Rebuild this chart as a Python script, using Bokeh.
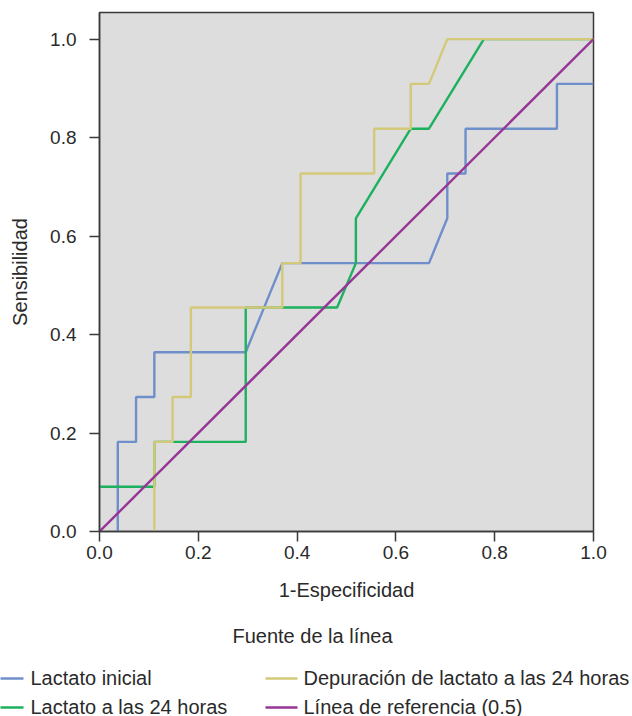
from bokeh.plotting import figure
from bokeh.layouts import column
from bokeh.models import Range1d, FixedTicker
from bokeh.core.properties import value
from bokeh.embed import file_html
from bokeh.resources import INLINE

# ---- data ----
inicial_x = [0.037, 0.037, 0.074, 0.074, 0.111, 0.111, 0.296, 0.370, 0.667, 0.704, 0.704, 0.741, 0.741, 0.926, 0.926, 1.0]
inicial_y = [0.0, 0.182, 0.182, 0.273, 0.273, 0.364, 0.364, 0.545, 0.545, 0.636, 0.727, 0.727, 0.818, 0.818, 0.909, 0.909]

h24_x = [0.0, 0.111, 0.111, 0.296, 0.296, 0.481, 0.519, 0.519, 0.630, 0.667, 0.778, 1.0]
h24_y = [0.091, 0.091, 0.182, 0.182, 0.455, 0.455, 0.545, 0.636, 0.818, 0.818, 1.0, 1.0]

dep_x = [0.111, 0.111, 0.148, 0.148, 0.185, 0.185, 0.370, 0.370, 0.407, 0.407, 0.556, 0.556, 0.630, 0.630, 0.667, 0.704, 1.0]
dep_y = [0.0, 0.182, 0.182, 0.273, 0.273, 0.455, 0.455, 0.545, 0.545, 0.727, 0.727, 0.818, 0.818, 0.909, 0.909, 1.0, 1.0]

ref_x = [0.0, 1.0]
ref_y = [0.0, 1.0]

ticks = [0.0, 0.2, 0.4, 0.6, 0.8, 1.0]
tick_labels = ["0.0", "0.2", "0.4", "0.6", "0.8", "1.0"]
names = ["Lactato inicial", "Lactato a las 24 horas",
         "Depuración de lactato a las 24 horas", "Línea de referencia (0.5)"]
colors = ["#6f8fca", "#1db05f", "#d3c979", "#963595"]
legend_title = "Fuente de la línea"

FONT = "Liberation Sans"
TXT = "#2a2a2a"

W = 632
H_MAIN = 612
H_LEG = 104

p = figure(width=W, height=H_MAIN, output_backend="svg", toolbar_location=None,
           x_range=Range1d(0, 1), y_range=Range1d(0, 1.054),
           min_border_left=99, min_border_right=39, min_border_top=12,
           min_border_bottom=H_MAIN - 531)
p.frame_align = False
p.background_fill_color = "#dcdddc"
p.border_fill_color = "white"
p.outline_line_color = "#3a3a3a"
p.outline_line_width = 1.5
p.grid.visible = False

for ax in (p.xaxis[0], p.yaxis[0]):
    ax.ticker = FixedTicker(ticks=ticks)
    ax.major_label_overrides = {t: l for t, l in zip(ticks, tick_labels)}
    ax.minor_tick_line_color = None
    ax.major_tick_out = 10
    ax.major_tick_in = 0
    ax.major_tick_line_color = "#3a3a3a"
    ax.major_tick_line_width = 1.5
    ax.axis_line_color = "#3a3a3a"
    ax.axis_line_width = 1.5
    ax.major_label_text_font = FONT
    ax.major_label_text_font_size = "19px"
    ax.major_label_text_color = TXT
    ax.axis_label_text_font = FONT
    ax.axis_label_text_font_size = "20px"
    ax.axis_label_text_font_style = "normal"
    ax.axis_label_text_color = TXT

p.xaxis.axis_label = "1-Especificidad"
p.yaxis.axis_label = "Sensibilidad"
p.xaxis.major_label_standoff = 4
p.yaxis.major_label_standoff = 13
p.xaxis.axis_label_standoff = 17
p.yaxis.axis_label_standoff = 16

series = [(inicial_x, inicial_y), (h24_x, h24_y), (dep_x, dep_y), (ref_x, ref_y)]
for (xs, ys), c in zip(series, colors):
    p.line(xs, ys, line_color=c, line_width=2.4)

# ---- legend panel: a second figure whose data units are page pixels ----
lg = figure(width=W, height=H_LEG, output_backend="svg", toolbar_location=None,
            x_range=Range1d(0, W), y_range=Range1d(H_MAIN + H_LEG, H_MAIN),
            min_border=0, x_axis_location=None, y_axis_location=None)
lg.frame_align = False
lg.outline_line_color = None
lg.background_fill_color = "white"
lg.grid.visible = False

lg.text(x=[312], y=[635.5], text=[legend_title], text_align="center", text_baseline="middle",
        text_font=value(FONT), text_font_size="20px", text_color=TXT)

col_line_x0 = [-9, -9, 265, 265]
col_line_x1 = [23, 23, 297, 297]
col_text_x = [30, 30, 303, 303]
row_y = [677, 706, 677, 706]

lg.segment(x0=col_line_x0, y0=[y + 1 for y in row_y], x1=col_line_x1, y1=[y + 1 for y in row_y],
           line_color=colors, line_width=2.6)
lg.text(x=col_text_x, y=row_y, text=names, text_align="left", text_baseline="middle",
        text_font=value(FONT), text_font_size="20px", text_color=TXT)

layout = column(p, lg, spacing=0)
open("out.html", "w").write(file_html(layout, INLINE))
